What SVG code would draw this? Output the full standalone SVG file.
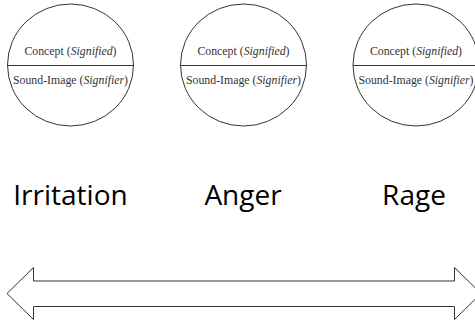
<svg xmlns="http://www.w3.org/2000/svg" width="475" height="324" viewBox="0 0 475 324">
<style>
.c{fill:#fff;stroke:#333;stroke-width:1}
.d{stroke:#333;stroke-width:1.2}
.s{font-family:"Liberation Serif",serif;font-size:11.8px;fill:#333;text-anchor:middle}
.i{font-style:italic}
.b{font-family:"Open Sans","Liberation Sans",sans-serif;font-size:28px;fill:#000;text-anchor:middle}
</style>
<rect width="475" height="324" fill="#fff"/>
<g id="sign1">
<ellipse class="c" cx="70.5" cy="65" rx="63" ry="61"/>
<line class="d" x1="7.5" y1="65.5" x2="133.5" y2="65.5"/>
<text class="s" x="70.5" y="55">Concept (<tspan class="i">Signified</tspan>)</text>
<text class="s" x="70.5" y="83.5">Sound-Image (<tspan class="i">Signifier</tspan>)</text>
</g>
<g id="sign2">
<ellipse class="c" cx="243.5" cy="65" rx="63" ry="61"/>
<line class="d" x1="180.5" y1="65.5" x2="306.5" y2="65.5"/>
<text class="s" x="243.5" y="55">Concept (<tspan class="i">Signified</tspan>)</text>
<text class="s" x="243.5" y="83.5">Sound-Image (<tspan class="i">Signifier</tspan>)</text>
</g>
<g id="sign3">
<ellipse class="c" cx="416" cy="65" rx="63" ry="61"/>
<line class="d" x1="353" y1="65.5" x2="479" y2="65.5"/>
<text class="s" x="416" y="55">Concept (<tspan class="i">Signified</tspan>)</text>
<text class="s" x="416" y="83.5">Sound-Image (<tspan class="i">Signifier</tspan>)</text>
</g>
<g id="irritation"><text class="b" x="70.5" y="205">Irritation</text></g>
<g id="anger"><text class="b" x="243" y="205">Anger</text></g>
<g id="rage"><text class="b" x="414" y="205">Rage</text></g>
<g id="connectors">
<path d="M7,293.5 L33.5,267.5 L33.5,281 L454.5,281 L454.5,267.5 L481,293.5 L454.5,319.5 L454.5,306.5 L33.5,306.5 L33.5,319.5 Z" fill="#fff" stroke="#333" stroke-width="1"/>
</g>
</svg>
